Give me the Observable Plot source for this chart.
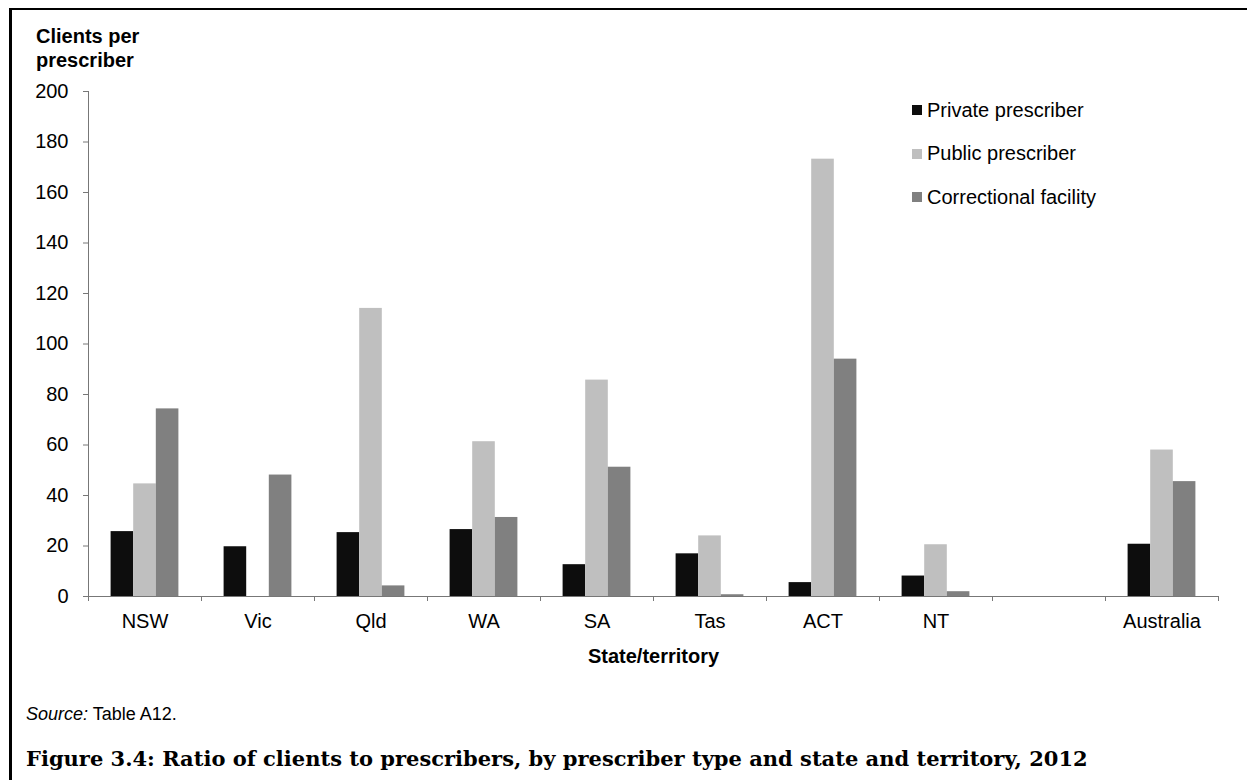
<!DOCTYPE html>
<html>
<head>
<meta charset="utf-8">
<script src="https://cdn.jsdelivr.net/npm/d3@7"></script>
<script src="https://cdn.jsdelivr.net/npm/@observablehq/plot@0.6"></script>
<style>
  html, body { margin: 0; padding: 0; background: #fff; }
  body { width: 1247px; height: 780px; position: relative; overflow: hidden; font-family: "Liberation Sans", Arial, sans-serif; color: #000; }
  #frame { position: absolute; left: 9px; top: 8px; width: 1400px; height: 900px; border-top: 2px solid #000; border-left: 3px solid #000; }
  #chart { position: absolute; left: 0; top: 0; }
  #ytitle { position: absolute; left: 36px; top: 24px; font-weight: bold; font-size: 20px; line-height: 24px; }
  #legend { position: absolute; left: 912px; top: 96px; font-size: 20px; }
  .lg { display: flex; align-items: center; height: 28px; margin-bottom: 15.5px; }
  .sw { width: 10px; height: 10px; margin-right: 5px; }
  #source { position: absolute; left: 26px; top: 704px; font-size: 18px; }
  #title { position: absolute; left: 26px; top: 746px; font-family: "DejaVu Serif", "Liberation Serif", serif; font-weight: bold; font-size: 21px; white-space: nowrap; }
</style>
</head>
<body>
<div id="frame"></div>
<div id="chart"></div>
<div id="ytitle">Clients per<br>prescriber</div>
<div id="legend"></div>
<div id="source"><i>Source:</i> Table A12.</div>
<div id="title">Figure 3.4: Ratio of clients to prescribers, by prescriber type and state and territory, 2012</div>
<script>
const states = ["NSW", "Vic", "Qld", "WA", "SA", "Tas", "ACT", "NT", "", "Australia"];
const seriesNames = ["Private prescriber", "Public prescriber", "Correctional facility"];
const seriesColors = ["#0d0d0d", "#bfbfbf", "#808080"];
const privatePrescriber = [25.7, 19.7, 25.3, 26.5, 12.6, 16.9, 5.5, 8.1, null, 20.7];
const publicPrescriber = [44.6, null, 114.1, 61.3, 85.7, 24.0, 173.2, 20.5, null, 58.0];
const correctionalFacility = [74.3, 48.1, 4.2, 31.3, 51.2, 0.7, 94.0, 1.9, null, 45.5];
const yTicks = [0, 20, 40, 60, 80, 100, 120, 140, 160, 180, 200];

const seriesValues = [privatePrescriber, publicPrescriber, correctionalFacility];
const data = [];
states.forEach((s, i) => {
  seriesValues.forEach((vals, j) => {
    if (vals[i] != null) data.push({state: s, idx: i, series: seriesNames[j], sj: j, value: vals[i]});
  });
});

// each category occupies one unit band; the three bars fill the middle 60%
const barW = 0.2;
const chart = Plot.plot({
  width: 1247,
  height: 690,
  marginTop: 91,
  marginBottom: 94,
  marginLeft: 88,
  marginRight: 29,
  style: {fontFamily: "'Liberation Sans', Arial, sans-serif", fontSize: "20px", color: "#000", background: "transparent"},
  x: {type: "linear", domain: [0, states.length]},
  y: {domain: [0, 200]},
  color: {domain: seriesNames, range: seriesColors},
  marks: [
    Plot.rectY(data, {
      x1: d => d.idx + barW * (d.sj + 1),
      x2: d => d.idx + barW * (d.sj + 2),
      y: "value",
      fill: "series"
    }),
    Plot.axisY({ticks: yTicks, tickSize: 5, tickPadding: 15, stroke: "#777", label: null, fill: "#000"}),
    Plot.axisX({ticks: d3.range(states.length + 1), tickSize: 5, tickFormat: () => "", stroke: "#777", label: null}),
    Plot.axisX({ticks: d3.range(states.length).map(i => i + 0.5), tickSize: 0, tickPadding: 17,
      tickFormat: v => states[Math.floor(v)], fill: "#000",
      label: "State/territory", labelAnchor: "center", labelOffset: 66, labelArrow: "none"}),
    Plot.ruleX([0], {stroke: "#777"}),
    Plot.ruleY([0], {stroke: "#777"})
  ]
});
document.getElementById("chart").appendChild(chart);
// bold axis label
chart.querySelectorAll("text").forEach(t => { if (t.textContent === "State/territory") t.setAttribute("font-weight", "bold"); });

const legend = document.getElementById("legend");
seriesNames.forEach((n, j) => {
  const row = document.createElement("div");
  row.className = "lg";
  row.innerHTML = `<span class="sw" style="background:${seriesColors[j]}"></span><span>${n}</span>`;
  legend.appendChild(row);
});
</script>
</body>
</html>
